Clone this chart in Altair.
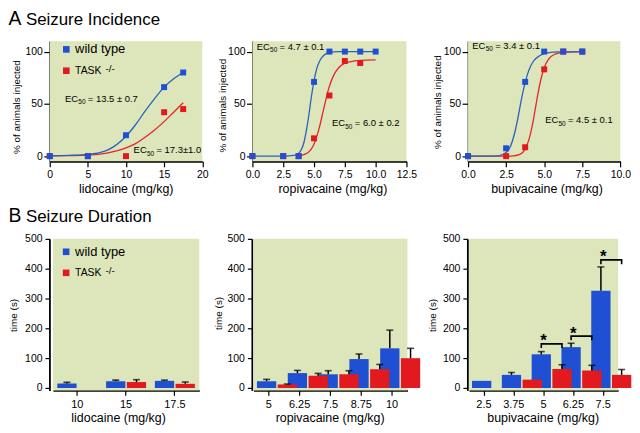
import altair as alt
import pandas as pd

FONT = "Liberation Sans"
BLUE = "#1f4fd3"
RED = "#e2191e"
BLUE_LINE = "#2a62b9"
RED_LINE = "#e3262c"
GREEN = "#dce6ba"
WT = "wild type"
KO = "TASK -/-"

# ---------------- A. Seizure incidence (% of animals injected) ----------------
lido_dose_wt = [0, 5, 10, 15, 17.5]
lido_pct_wt = [0, 0, 20, 66, 80]
lido_dose_ko = [0, 5, 10, 15, 17.5]
lido_pct_ko = [0, 0, 0, 42, 45]
lido_fit_x = [0, 2.5, 5, 7.5, 10, 11.25, 12.5, 13.75, 15, 16.25, 17.5]
lido_fit_wt = [0.3, 0.7, 1.6, 5.5, 19, 30, 43, 55, 66, 74, 80]
lido_fit_ko = [0.3, 0.5, 0.9, 2.8, 7.8, 12, 18, 25, 33, 42, 51]
lido_ec50_text = ["= 13.5 ± 0.7", "= 17.3±1.0"]
lido_ec50_pos = [(2.0, 52.0), (11.0, 2.8)]

ropi_dose_wt = [0, 2.5, 3.75, 5, 6.25, 7.5, 8.75, 10]
ropi_pct_wt = [0, 0, 0, 71, 100, 100, 100, 100]
ropi_dose_ko = [0, 2.5, 3.75, 5, 6.25, 7.5, 8.75]
ropi_pct_ko = [0, 0, 0, 17, 58, 91, 89]
ropi_fit_wt_x = [0, 2.5, 3.5, 3.75, 4.0, 4.2, 4.4, 4.6, 4.8, 5.0, 5.2, 5.5, 5.8, 6.2, 7.0, 10.0]
ropi_fit_wt = [0, 0, 1, 2.5, 7, 14, 26, 41, 58, 72, 83, 92, 96.5, 99, 100, 100]
ropi_fit_ko_x = [3.75, 4.5, 5.0, 5.4, 5.8, 6.2, 6.6, 7.0, 7.5, 8.0, 8.75, 10.0]
ropi_fit_ko = [0.3, 3.3, 11.5, 26, 46, 65, 77.5, 84.5, 89, 90.5, 91.5, 92]
ropi_ec50_text = ["= 4.7 ± 0.1", "= 6.0 ± 0.2"]
ropi_ec50_pos = [(0.35, 101.6), (6.45, 28.7)]

bupi_dose_wt = [0, 2.5, 3.75, 5, 6.25, 7.5]
bupi_pct_wt = [0, 7.5, 71, 100, 100, 100]
bupi_dose_ko = [0, 2.5, 3.75, 5, 6.25, 7.5]
bupi_pct_ko = [0, 0, 8.5, 83, 100, 100]
bupi_fit_wt_x = [0, 1.5, 2.0, 2.5, 2.8, 3.1, 3.3, 3.5, 3.75, 4.0, 4.3, 4.7, 5.2, 6.0, 7.5]
bupi_fit_wt = [0, 0, 0.3, 3.5, 10, 24.5, 38.5, 54, 70.5, 82.5, 91, 96, 98.7, 99.7, 100]
bupi_fit_ko_x = [0, 2.5, 3.0, 3.4, 3.75, 4.0, 4.2, 4.4, 4.6, 4.8, 5.0, 5.3, 5.7, 6.25, 7.5]
bupi_fit_ko = [0, 0, 0.3, 1.6, 6.7, 16, 28, 44, 60.5, 74.5, 84.5, 93, 97.5, 99.3, 100]
bupi_ec50_text = ["= 3.4 ± 0.1", "= 4.5 ± 0.1"]
bupi_ec50_pos = [(0.28, 102.6), (5.06, 31.3)]

# ---------------- B. Seizure duration (time, s) ----------------
lido_groups = ["10", "15", "17.5"]
lido_wt_mean = [15, 23, 24]
lido_wt_sem = [4, 3.5, 2.5]
lido_ko_mean = [None, 20, 14]
lido_ko_sem = [None, 8, 6]

ropi_groups = ["5", "6.25", "7.5", "8.75", "10"]
ropi_wt_mean = [23, 50, 46, 97, 133]
ropi_wt_sem = [6, 9, 12, 17, 61]
ropi_ko_mean = [12, 41, 46, 63, 100]
ropi_ko_sem = [1.5, 8, 12, 16, 33]

bupi_groups = ["2.5", "3.75", "5", "6.25", "7.5"]
bupi_wt_mean = [24, 44, 113, 137, 326]
bupi_wt_sem = [0, 8, 9, 13, 80]
bupi_ko_mean = [None, 28, 64, 59, 44]
bupi_ko_sem = [None, 0, 14, 17, 18]
bupi_sig_groups = ["5", "6.25", "7.5"]
bupi_sig_top = [148, 174, 429.5]
bupi_sig_leg = [134, 160, 415]

TOP_H = 121
BOT_H = 152.5


def one_row():
    return pd.DataFrame({"k": [0]})


def background(x0, x1, h):
    return alt.Chart(one_row()).mark_rect(color=GREEN, opacity=1).encode(
        x=alt.value(x0), x2=alt.value(x1), y=alt.value(0), y2=alt.value(h))


def legend_layers(sq_x, y_wt, y_ko, txt_x):
    out = []
    for color, yy in [(BLUE, y_wt), (RED, y_ko)]:
        out.append(alt.Chart(one_row()).mark_square(size=44, color=color, opacity=1).encode(
            x=alt.value(sq_x), y=alt.value(yy)))
    out.append(alt.Chart(one_row()).mark_text(text="wild type", fontSize=13, align="left", baseline="middle").encode(
        x=alt.value(txt_x), y=alt.value(y_wt)))
    out.append(alt.Chart(one_row()).mark_text(text="TASK", fontSize=10.5, align="left", baseline="middle").encode(
        x=alt.value(txt_x), y=alt.value(y_ko)))
    out.append(alt.Chart(one_row()).mark_text(text="-/-", fontSize=10, align="left", baseline="middle").encode(
        x=alt.value(txt_x + 30.5), y=alt.value(y_ko - 2)))
    return out


def title_layers(letter, text, x_letter, x_text, y_top):
    return [
        alt.Chart(one_row()).mark_text(text=letter, fontSize=19.5, align="left", baseline="top").encode(
            x=alt.value(x_letter), y=alt.value(y_top)),
        alt.Chart(one_row()).mark_text(text=text, fontSize=17, align="left", baseline="top").encode(
            x=alt.value(x_text), y=alt.value(y_top + 2)),
    ]


def incidence(dwt, pwt, dko, pko, fxw, fyw, fxk, fyk, ec_pos, ec_txt, xmax, xticks, xfmt, xtitle,
              cell_w, plot_w, ytx, yty, xtx, extra=()):
    xs = alt.Scale(domain=[0, xmax], nice=False, zero=False, range=[0, plot_w])
    ys = alt.Scale(domain=[-5, 110], nice=False, zero=False)
    xa = alt.Axis(values=xticks, format=xfmt, title=xtitle, labelFlush=False, labelOverlap=False,
                  tickSize=5.5, labelPadding=3, titleFontSize=12.5, titleY=31, titleX=xtx,
                  titleBaseline="alphabetic")
    ya = alt.Axis(values=[0, 50, 100], title="% of animals injected", tickSize=6, labelPadding=1.5,
                  titleFontSize=10, titleAngle=-90, titleX=ytx, titleY=yty,
                  titleBaseline="alphabetic", titleAlign="center")

    def enc(xf, yf):
        return dict(x=alt.X(xf, type="quantitative", scale=xs, axis=xa),
                    y=alt.Y(yf, type="quantitative", scale=ys, axis=ya))

    fit_ko = alt.Chart(pd.DataFrame({"d": fxk, "p": fyk})).mark_line(
        color=RED_LINE, strokeWidth=1.3, interpolate="monotone").encode(**enc("d", "p"))
    fit_wt = alt.Chart(pd.DataFrame({"d": fxw, "p": fyw})).mark_line(
        color=BLUE_LINE, strokeWidth=1.3, interpolate="monotone").encode(**enc("d", "p"))
    pts_ko = alt.Chart(pd.DataFrame({"d": dko, "p": pko})).mark_square(
        size=36, color=RED, opacity=1).encode(**enc("d", "p"))
    pts_wt = alt.Chart(pd.DataFrame({"d": dwt, "p": pwt})).mark_square(
        size=36, color=BLUE, opacity=1).encode(**enc("d", "p"))
    ann = pd.DataFrame({"d": [p[0] for p in ec_pos], "p": [p[1] for p in ec_pos], "t": ec_txt})
    ec = alt.Chart(ann).mark_text(text="EC", fontSize=9.5, align="left", baseline="alphabetic").encode(**enc("d", "p"))
    sub = alt.Chart(ann).mark_text(text="50", fontSize=6.5, align="left", baseline="alphabetic",
                                   dx=13.4, dy=2.5).encode(**enc("d", "p"))
    rest = alt.Chart(ann).mark_text(fontSize=9.5, align="left", baseline="alphabetic", dx=23.0).encode(
        text="t:N", **enc("d", "p"))
    return alt.layer(background(0, plot_w, TOP_H), fit_ko, fit_wt, pts_ko, pts_wt, ec, sub, rest,
                     *extra).properties(width=cell_w, height=TOP_H)


def duration(groups, wm, ws, km, ks, xtitle, cell_w, x0, x1, pin, yoff, ytx, yty, xtx,
             sig_groups=None, sig_top=None, sig_leg=None, extra=()):
    rows = []
    for g, m, s in zip(groups, wm, ws):
        if m is not None:
            rows.append({"dose": g, "grp": WT, "mean": m, "sem": s or 0, "top": m + (s or 0)})
    for g, m, s in zip(groups, km, ks):
        if m is not None:
            rows.append({"dose": g, "grp": KO, "mean": m, "sem": s or 0, "top": m + (s or 0)})
    df = pd.DataFrame(rows)
    err = df[df["sem"] > 0]

    xs = alt.Scale(paddingInner=pin, paddingOuter=pin / 2, range=[x0, x1])
    xa = alt.Axis(title=xtitle, labelAngle=0, tickSize=5, labelPadding=3, titleFontSize=12.5,
                  titleY=31.5, titleBaseline="alphabetic", titleX=xtx, labelFontSize=11)
    ys = alt.Scale(domain=[-8, 500], nice=False, zero=False)
    ya = alt.Axis(values=[0, 100, 200, 300, 400, 500], title="time (s)", offset=yoff, tickSize=4.5,
                  labelPadding=3, titleFontSize=10, titleAngle=-90, titleX=ytx, titleY=yty,
                  titleBaseline="alphabetic", titleAlign="center")
    xo = alt.XOffset("grp:N", scale=alt.Scale(domain=[WT, KO], paddingInner=0.07, paddingOuter=0))
    X = alt.X("dose:N", sort=groups, scale=xs, axis=xa)

    bars = alt.Chart(df).mark_bar().encode(
        x=X, xOffset=xo, y=alt.Y("mean:Q", scale=ys, axis=ya),
        color=alt.Color("grp:N", scale=alt.Scale(domain=[WT, KO], range=[BLUE, RED]), legend=None))
    rule = alt.Chart(err).mark_rule(color="black", strokeWidth=1.5).encode(
        x=X, xOffset=xo, y=alt.Y("mean:Q", scale=ys, axis=ya), y2="top:Q")
    cap = alt.Chart(err).mark_tick(color="black", thickness=1.6, size=7).encode(
        x=X, xOffset=xo, y=alt.Y("top:Q", scale=ys, axis=ya))
    layers = [background(x0, x1, BOT_H), bars, rule, cap]
    if sig_groups:
        brows = []
        for i, (g, t, l) in enumerate(zip(sig_groups, sig_top, sig_leg)):
            brows += [{"dose": g, "grp": WT, "v": l, "o": 0, "b": i},
                      {"dose": g, "grp": WT, "v": t, "o": 1, "b": i},
                      {"dose": g, "grp": KO, "v": t, "o": 2, "b": i},
                      {"dose": g, "grp": KO, "v": l, "o": 3, "b": i}]
        bdf = pd.DataFrame(brows)
        brk = alt.Chart(bdf).mark_line(color="black", strokeWidth=1.6).encode(
            x=X, xOffset=xo, y=alt.Y("v:Q", scale=ys, axis=ya), detail="b:N", order="o:Q")
        sdf = pd.DataFrame({"dose": sig_groups, "v": sig_top})
        star = alt.Chart(sdf).mark_text(text="*", fontSize=17, fontWeight="bold", baseline="alphabetic",
                                        dy=2.5).encode(x=X, y=alt.Y("v:Q", scale=ys, axis=ya))
        layers += [brk, star]
    return alt.layer(*layers, *extra).properties(width=cell_w, height=BOT_H)


p1 = incidence(lido_dose_wt, lido_pct_wt, lido_dose_ko, lido_pct_ko, lido_fit_x, lido_fit_wt,
               lido_fit_x, lido_fit_ko, lido_ec50_pos, lido_ec50_text, 20, [0, 5, 10, 15, 20], "d",
               "lidocaine (mg/kg)", 204, 153.5, -30.5, 66, 76.5,
               extra=legend_layers(16.7, 8.3, 29.8, 25.5)
               + title_layers("A", "Seizure Incidence", -41.5, -24.0, -31.0))
p2 = incidence(ropi_dose_wt, ropi_pct_wt, ropi_dose_ko, ropi_pct_ko, ropi_fit_wt_x, ropi_fit_wt,
               ropi_fit_ko_x, ropi_fit_ko, ropi_ec50_pos, ropi_ec50_text, 12.5,
               [0, 2.5, 5, 7.5, 10, 12.5], ".1f", "ropivacaine (mg/kg)", 217, 155, -27.3, 64.5, 80.5)
p3 = incidence(bupi_dose_wt, bupi_pct_wt, bupi_dose_ko, bupi_pct_ko, bupi_fit_wt_x, bupi_fit_wt,
               bupi_fit_ko_x, bupi_fit_ko, bupi_ec50_pos, bupi_ec50_text, 10,
               [0, 2.5, 5, 7.5, 10], ".1f", "bupivacaine (mg/kg)", 153.3, 153.3, -27.7, 61, 79)

b1 = duration(lido_groups, lido_wt_mean, lido_wt_sem, lido_ko_mean, lido_ko_sem, "lidocaine (mg/kg)",
              204, 3.2, 150.5, 0.18, 0.3, -32.7, 76.5, 68.8,
              extra=legend_layers(16.5, 13.0, 34.2, 25.5)
              + title_layers("B", "Seizure Duration", -41.5, -24.0, -31.5))
b2 = duration(ropi_groups, ropi_wt_mean, ropi_wt_sem, ropi_ko_mean, ropi_ko_sem, "ropivacaine (mg/kg)",
              217, 1.0, 156, 0.23, 0.6, -30.7, 74.5, 77.7)
b3 = duration(bupi_groups, bupi_wt_mean, bupi_wt_sem, bupi_ko_mean, bupi_ko_sem, "bupivacaine (mg/kg)",
              153.3, 1.0, 151, 0.2, 0.7, -32.5, 76.5, 75.1,
              sig_groups=bupi_sig_groups, sig_top=bupi_sig_top, sig_leg=bupi_sig_leg)

chart = alt.concat(p1, p2, p3, b1, b2, b3, columns=3, spacing={"row": 78, "column": 0},
                   bounds="flush", align="each").properties(
    padding=0
).configure_view(strokeWidth=0).configure_axis(
    domainColor="black", domainWidth=1.8, tickColor="black", tickWidth=1.2, labelColor="black",
    titleColor="black", labelFont=FONT, titleFont=FONT, labelFontSize=10.5, titleFontWeight="normal",
    grid=False
).configure_text(font=FONT, color="black")

chart.save("out.html", embed_options={"renderer": "svg", "actions": False})
